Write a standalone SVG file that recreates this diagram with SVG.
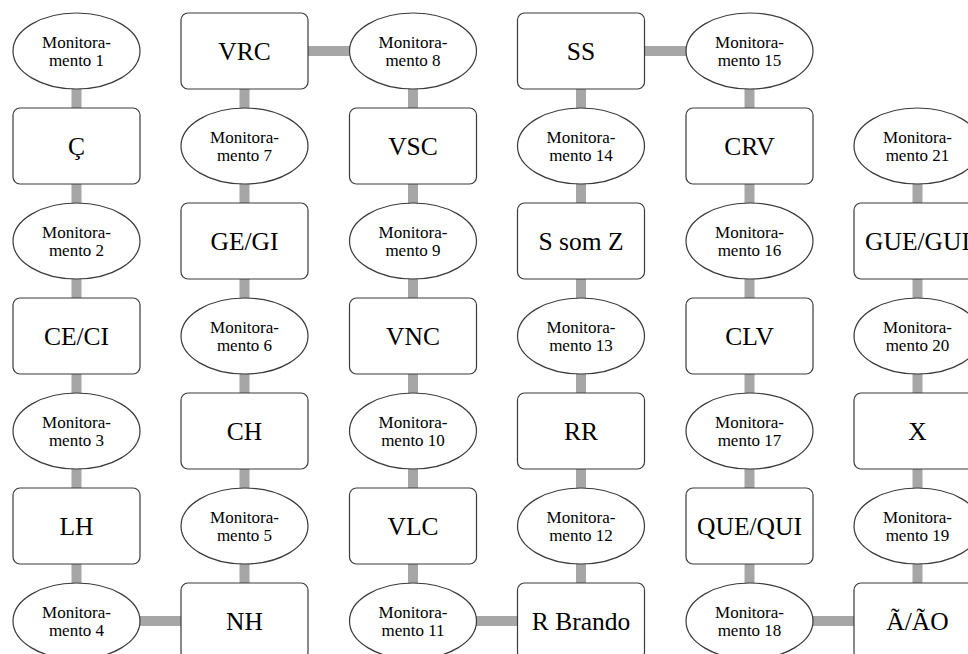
<svg xmlns="http://www.w3.org/2000/svg" width="968" height="654" viewBox="0 0 968 654">
<style>
.bg{fill:#fff}
.c line{stroke:#a6a6a6;stroke-width:10}
.n rect,.n ellipse{fill:#fff;stroke:#3a3a3a;stroke-width:1.2}
text{font-family:"Liberation Serif","Times New Roman",serif;fill:#000;text-anchor:middle}
.b{font-size:25.5px}
.m{font-size:17px}
</style>
<rect class="bg" width="968" height="654"/>
<g id="connectors" class="c">
<line x1="76.5" y1="51" x2="76.5" y2="621"/>
<line x1="244.5" y1="51" x2="244.5" y2="621"/>
<line x1="413" y1="51" x2="413" y2="621"/>
<line x1="581" y1="51" x2="581" y2="621"/>
<line x1="749.5" y1="51" x2="749.5" y2="621"/>
<line x1="917.5" y1="146" x2="917.5" y2="621"/>
<line x1="244.5" y1="51" x2="413" y2="51"/>
<line x1="581" y1="51" x2="749.5" y2="51"/>
<line x1="76.5" y1="621" x2="244.5" y2="621"/>
<line x1="413" y1="621" x2="581" y2="621"/>
<line x1="749.5" y1="621" x2="917.5" y2="621"/>
</g>
<!-- Column 0 -->
<g id="mon1" class="n"><ellipse cx="76.5" cy="51" rx="63.5" ry="38"/><text class="m" x="76.5" y="48">Monitora-</text><text class="m" x="76.5" y="66">mento 1</text></g>
<g id="c-cedilha" class="n"><rect x="13" y="108" width="127" height="76" rx="7"/><text class="b" x="76.5" y="155">Ç</text></g>
<g id="mon2" class="n"><ellipse cx="76.5" cy="241" rx="63.5" ry="38"/><text class="m" x="76.5" y="238">Monitora-</text><text class="m" x="76.5" y="256">mento 2</text></g>
<g id="ce-ci" class="n"><rect x="13" y="298" width="127" height="76" rx="7"/><text class="b" x="76.5" y="345">CE/CI</text></g>
<g id="mon3" class="n"><ellipse cx="76.5" cy="431" rx="63.5" ry="38"/><text class="m" x="76.5" y="428">Monitora-</text><text class="m" x="76.5" y="446">mento 3</text></g>
<g id="lh" class="n"><rect x="13" y="488" width="127" height="76" rx="7"/><text class="b" x="76.5" y="535">LH</text></g>
<g id="mon4" class="n"><ellipse cx="76.5" cy="621" rx="63.5" ry="38"/><text class="m" x="76.5" y="618">Monitora-</text><text class="m" x="76.5" y="636">mento 4</text></g>
<!-- Column 1 -->
<g id="vrc" class="n"><rect x="181" y="13" width="127" height="76" rx="7"/><text class="b" x="244.5" y="60">VRC</text></g>
<g id="mon7" class="n"><ellipse cx="244.5" cy="146" rx="63.5" ry="38"/><text class="m" x="244.5" y="143">Monitora-</text><text class="m" x="244.5" y="161">mento 7</text></g>
<g id="ge-gi" class="n"><rect x="181" y="203" width="127" height="76" rx="7"/><text class="b" x="244.5" y="250">GE/GI</text></g>
<g id="mon6" class="n"><ellipse cx="244.5" cy="336" rx="63.5" ry="38"/><text class="m" x="244.5" y="333">Monitora-</text><text class="m" x="244.5" y="351">mento 6</text></g>
<g id="ch" class="n"><rect x="181" y="393" width="127" height="76" rx="7"/><text class="b" x="244.5" y="440">CH</text></g>
<g id="mon5" class="n"><ellipse cx="244.5" cy="526" rx="63.5" ry="38"/><text class="m" x="244.5" y="523">Monitora-</text><text class="m" x="244.5" y="541">mento 5</text></g>
<g id="nh" class="n"><rect x="181" y="583" width="127" height="76" rx="7"/><text class="b" x="244.5" y="630">NH</text></g>
<!-- Column 2 -->
<g id="mon8" class="n"><ellipse cx="413" cy="51" rx="63.5" ry="38"/><text class="m" x="413" y="48">Monitora-</text><text class="m" x="413" y="66">mento 8</text></g>
<g id="vsc" class="n"><rect x="349.5" y="108" width="127" height="76" rx="7"/><text class="b" x="413" y="155">VSC</text></g>
<g id="mon9" class="n"><ellipse cx="413" cy="241" rx="63.5" ry="38"/><text class="m" x="413" y="238">Monitora-</text><text class="m" x="413" y="256">mento 9</text></g>
<g id="vnc" class="n"><rect x="349.5" y="298" width="127" height="76" rx="7"/><text class="b" x="413" y="345">VNC</text></g>
<g id="mon10" class="n"><ellipse cx="413" cy="431" rx="63.5" ry="38"/><text class="m" x="413" y="428">Monitora-</text><text class="m" x="413" y="446">mento 10</text></g>
<g id="vlc" class="n"><rect x="349.5" y="488" width="127" height="76" rx="7"/><text class="b" x="413" y="535">VLC</text></g>
<g id="mon11" class="n"><ellipse cx="413" cy="621" rx="63.5" ry="38"/><text class="m" x="413" y="618">Monitora-</text><text class="m" x="413" y="636">mento 11</text></g>
<!-- Column 3 -->
<g id="ss" class="n"><rect x="517.5" y="13" width="127" height="76" rx="7"/><text class="b" x="581" y="60">SS</text></g>
<g id="mon14" class="n"><ellipse cx="581" cy="146" rx="63.5" ry="38"/><text class="m" x="581" y="143">Monitora-</text><text class="m" x="581" y="161">mento 14</text></g>
<g id="s-som-z" class="n"><rect x="517.5" y="203" width="127" height="76" rx="7"/><text class="b" x="581" y="250">S som Z</text></g>
<g id="mon13" class="n"><ellipse cx="581" cy="336" rx="63.5" ry="38"/><text class="m" x="581" y="333">Monitora-</text><text class="m" x="581" y="351">mento 13</text></g>
<g id="rr" class="n"><rect x="517.5" y="393" width="127" height="76" rx="7"/><text class="b" x="581" y="440">RR</text></g>
<g id="mon12" class="n"><ellipse cx="581" cy="526" rx="63.5" ry="38"/><text class="m" x="581" y="523">Monitora-</text><text class="m" x="581" y="541">mento 12</text></g>
<g id="r-brando" class="n"><rect x="517.5" y="583" width="127" height="76" rx="7"/><text class="b" x="581" y="630">R Brando</text></g>
<!-- Column 4 -->
<g id="mon15" class="n"><ellipse cx="749.5" cy="51" rx="63.5" ry="38"/><text class="m" x="749.5" y="48">Monitora-</text><text class="m" x="749.5" y="66">mento 15</text></g>
<g id="crv" class="n"><rect x="686" y="108" width="127" height="76" rx="7"/><text class="b" x="749.5" y="155">CRV</text></g>
<g id="mon16" class="n"><ellipse cx="749.5" cy="241" rx="63.5" ry="38"/><text class="m" x="749.5" y="238">Monitora-</text><text class="m" x="749.5" y="256">mento 16</text></g>
<g id="clv" class="n"><rect x="686" y="298" width="127" height="76" rx="7"/><text class="b" x="749.5" y="345">CLV</text></g>
<g id="mon17" class="n"><ellipse cx="749.5" cy="431" rx="63.5" ry="38"/><text class="m" x="749.5" y="428">Monitora-</text><text class="m" x="749.5" y="446">mento 17</text></g>
<g id="que-qui" class="n"><rect x="686" y="488" width="127" height="76" rx="7"/><text class="b" x="749.5" y="535">QUE/QUI</text></g>
<g id="mon18" class="n"><ellipse cx="749.5" cy="621" rx="63.5" ry="38"/><text class="m" x="749.5" y="618">Monitora-</text><text class="m" x="749.5" y="636">mento 18</text></g>
<!-- Column 5 -->
<g id="mon21" class="n"><ellipse cx="917.5" cy="146" rx="63.5" ry="38"/><text class="m" x="917.5" y="143">Monitora-</text><text class="m" x="917.5" y="161">mento 21</text></g>
<g id="gue-gui" class="n"><rect x="854" y="203" width="127" height="76" rx="7"/><text class="b" x="917.5" y="250">GUE/GUI</text></g>
<g id="mon20" class="n"><ellipse cx="917.5" cy="336" rx="63.5" ry="38"/><text class="m" x="917.5" y="333">Monitora-</text><text class="m" x="917.5" y="351">mento 20</text></g>
<g id="x" class="n"><rect x="854" y="393" width="127" height="76" rx="7"/><text class="b" x="917.5" y="440">X</text></g>
<g id="mon19" class="n"><ellipse cx="917.5" cy="526" rx="63.5" ry="38"/><text class="m" x="917.5" y="523">Monitora-</text><text class="m" x="917.5" y="541">mento 19</text></g>
<g id="a-ao" class="n"><rect x="854" y="583" width="127" height="76" rx="7"/><text class="b" x="917.5" y="630">Ã/ÃO</text></g>
</svg>
